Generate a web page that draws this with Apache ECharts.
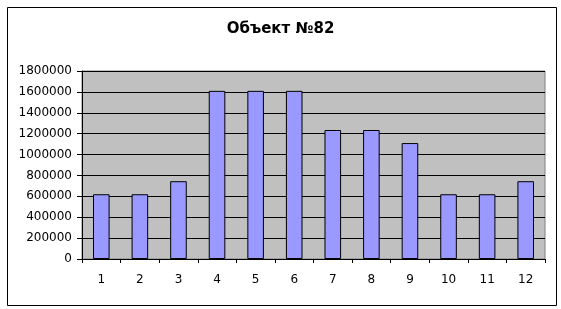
<!DOCTYPE html>
<html><head><meta charset="utf-8">
<script src="https://cdn.jsdelivr.net/npm/echarts@6/dist/echarts.min.js"></script>
<style>html,body{margin:0;padding:0;background:#fff}#c{width:561px;height:309px}</style>
</head><body><div id="c"></div>
<script>
const titleText = 'Объект №82';
const categories = ['1','2','3','4','5','6','7','8','9','10','11','12'];
const values = [620000, 620000, 745000, 1610000, 1610000, 1610000, 1235000, 1235000, 1110000, 620000, 620000, 745000];
const yMin = 0, yMax = 1800000, yStep = 200000;

const chart = echarts.init(document.getElementById('c'), null, {renderer: 'canvas'});
chart.setOption({
  animation: false,
  backgroundColor: '#fff',
  textStyle: {fontFamily: 'DejaVu Sans'},
  title: {
    text: titleText, left: 'center', top: 17,
    textStyle: {fontFamily: 'DejaVu Sans', fontWeight: 'bold', fontSize: 15, color: '#000'}
  },
  graphic: [{
    type: 'rect', left: 5, top: 5, z: -1,
    shape: {width: 549, height: 298},
    style: {fill: 'none', stroke: '#000', lineWidth: 1}
  }],
  grid: {
    left: 82, right: 16, top: 71, bottom: 50, containLabel: false,
    show: true, backgroundColor: '#c0c0c0', borderColor: '#808080', borderWidth: 1
  },
  xAxis: {
    type: 'category', data: categories,
    axisLine: {lineStyle: {color: '#000', width: 1}},
    axisTick: {show: true, length: 4, lineStyle: {color: '#000'}},
    axisLabel: {color: '#000', fontSize: 12, margin: 15, fontFamily: 'DejaVu Sans'}
  },
  yAxis: {
    type: 'value', min: yMin, max: yMax, interval: yStep,
    axisLine: {show: true, lineStyle: {color: '#000', width: 1}},
    axisTick: {show: true, length: 5, lineStyle: {color: '#000'}},
    axisLabel: {color: '#000', fontSize: 12, margin: 10, fontFamily: 'DejaVu Sans',
      formatter: v => String(v)},
    splitLine: {show: true, lineStyle: {color: '#000', width: 1}}
  },
  series: [{
    type: 'bar', data: values, barWidth: '43%',
    itemStyle: {color: '#9999ff', borderColor: '#000', borderWidth: 1}
  }]
});
</script></body></html>
